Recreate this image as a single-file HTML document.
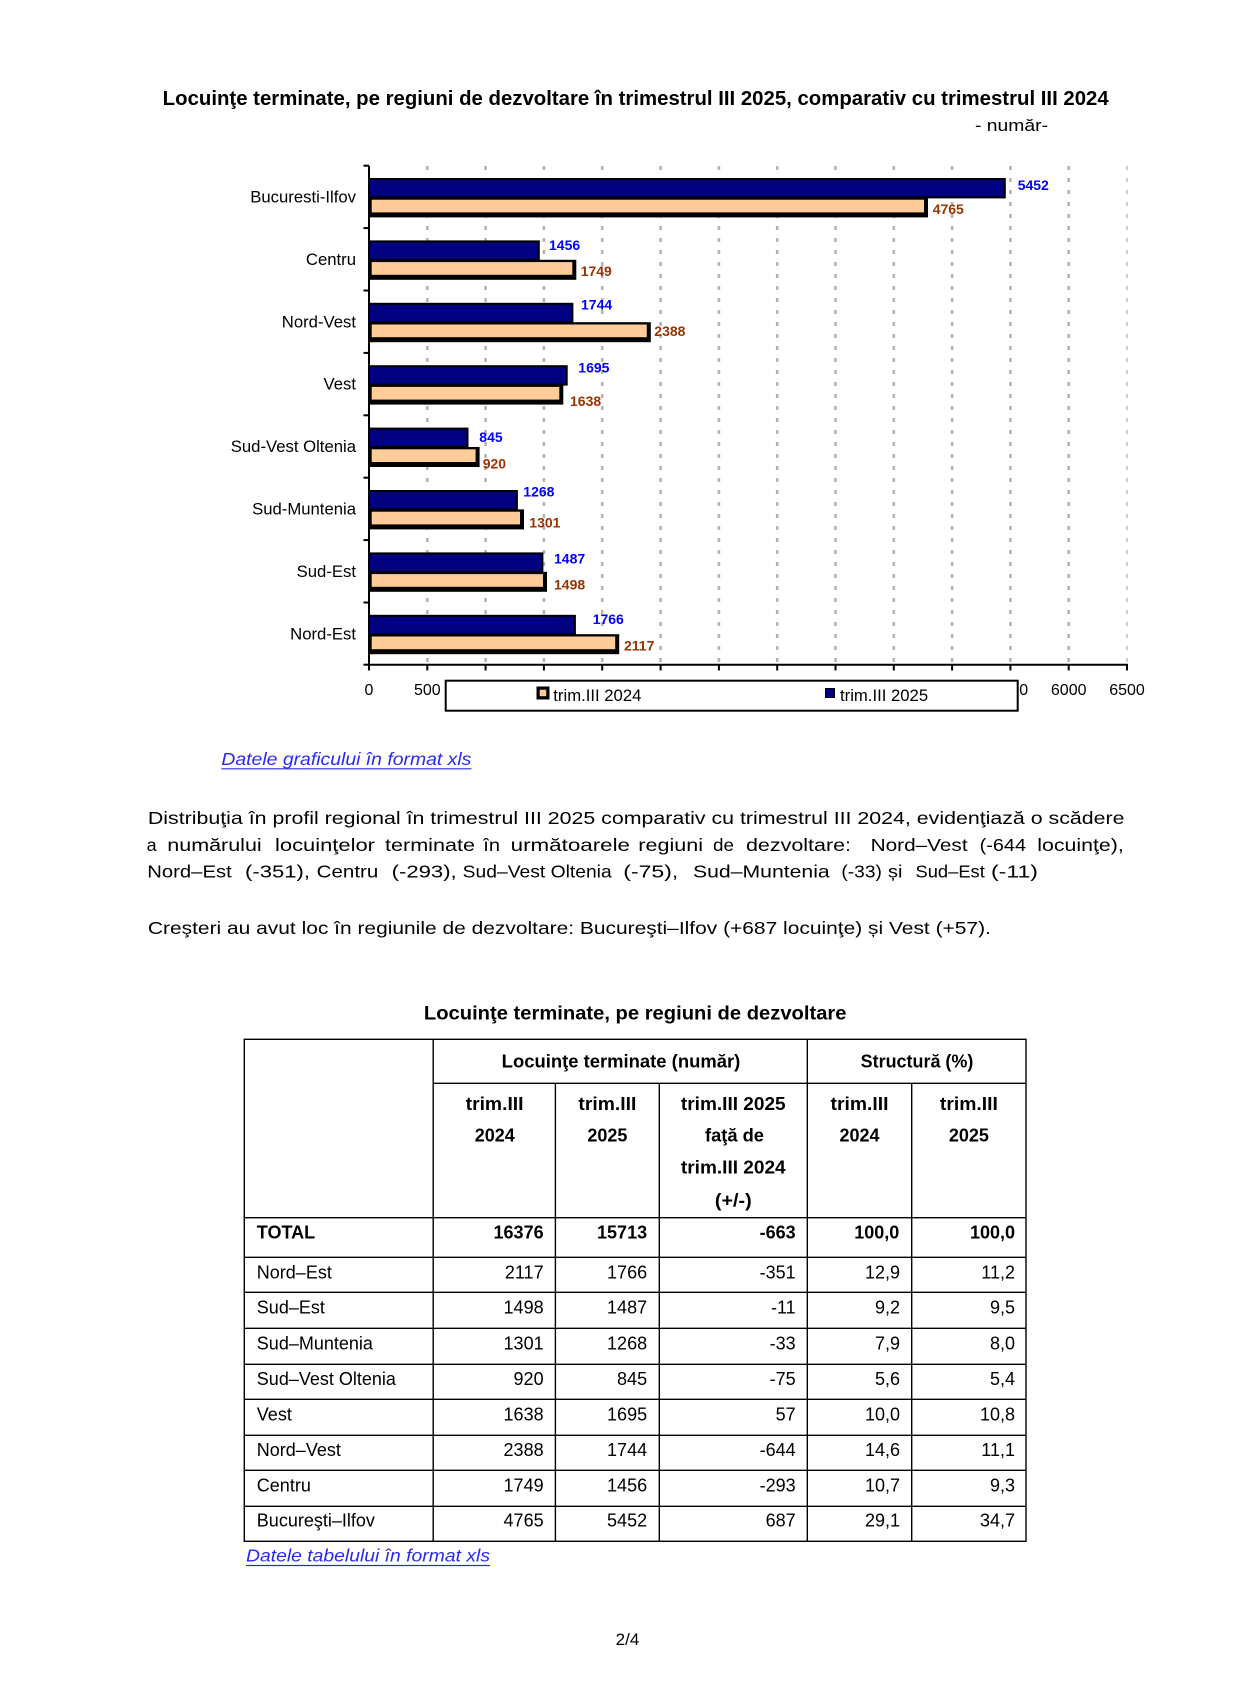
<!DOCTYPE html>
<html>
<head>
<meta charset="utf-8">
<style>
html,body{margin:0;padding:0;background:#fff;}
svg{display:block;}
text{font-family:"Liberation Sans",Arial,sans-serif;}
</style>
</head>
<body>
<svg width="1238" height="1707" viewBox="0 0 1238 1707" xmlns="http://www.w3.org/2000/svg">
<rect x="0" y="0" width="1238" height="1707" fill="#fff"/>

<!-- Chart title -->
<text x="162.7" y="105" font-size="20" font-weight="bold" fill="#000" textLength="946" lengthAdjust="spacingAndGlyphs">Locuinţe terminate, pe regiuni de dezvoltare în trimestrul III 2025, comparativ cu trimestrul III 2024</text>
<text x="975" y="131" font-size="17" fill="#000" textLength="73" lengthAdjust="spacingAndGlyphs">- număr-</text>

<!-- Gridlines -->
<g stroke="#b4b4b4" stroke-width="2.6" stroke-dasharray="4 8">
<line x1="427.3" y1="166" x2="427.3" y2="664"/>
<line x1="485.6" y1="166" x2="485.6" y2="664"/>
<line x1="543.9" y1="166" x2="543.9" y2="664"/>
<line x1="602.2" y1="166" x2="602.2" y2="664"/>
<line x1="660.6" y1="166" x2="660.6" y2="664"/>
<line x1="718.9" y1="166" x2="718.9" y2="664"/>
<line x1="777.2" y1="166" x2="777.2" y2="664"/>
<line x1="835.5" y1="166" x2="835.5" y2="664"/>
<line x1="893.8" y1="166" x2="893.8" y2="664"/>
<line x1="952.1" y1="166" x2="952.1" y2="664"/>
<line x1="1010.4" y1="166" x2="1010.4" y2="664"/>
<line x1="1068.7" y1="166" x2="1068.7" y2="664"/>
</g>
<line x1="1127" y1="166" x2="1127" y2="664" stroke="#b4b4b4" stroke-width="1.3" stroke-dasharray="4 8"/>

<!-- Navy bars (2025) -->
<g fill="#000080" stroke="#000" stroke-width="2">
<rect x="369" y="179.0" width="635.8" height="18.4"/>
<rect x="369" y="241.4" width="169.8" height="18.4"/>
<rect x="369" y="303.8" width="203.4" height="18.4"/>
<rect x="369" y="366.2" width="197.7" height="18.4"/>
<rect x="369" y="428.6" width="98.5" height="18.4"/>
<rect x="369" y="491.0" width="147.9" height="18.4"/>
<rect x="369" y="553.4" width="173.4" height="18.4"/>
<rect x="369" y="615.8" width="205.9" height="18.4"/>
</g>
<!-- Orange bars (2024) outer -->
<g fill="#000">
<rect x="369" y="197.4" width="559.0" height="20"/>
<rect x="369" y="259.8" width="207.3" height="20"/>
<rect x="369" y="322.2" width="281.8" height="20"/>
<rect x="369" y="384.6" width="194.3" height="20"/>
<rect x="369" y="447.0" width="110.6" height="20"/>
<rect x="369" y="509.4" width="155.0" height="20"/>
<rect x="369" y="571.8" width="178.0" height="20"/>
<rect x="369" y="634.2" width="250.2" height="20"/>
</g>
<g fill="#ffcc99">
<rect x="371.7" y="199.7" width="552.3" height="12.7"/>
<rect x="371.7" y="262.1" width="200.6" height="12.7"/>
<rect x="371.7" y="324.5" width="275.1" height="12.7"/>
<rect x="371.7" y="386.9" width="187.6" height="12.7"/>
<rect x="371.7" y="449.3" width="103.9" height="12.7"/>
<rect x="371.7" y="511.7" width="148.3" height="12.7"/>
<rect x="371.7" y="574.1" width="171.3" height="12.7"/>
<rect x="371.7" y="636.5" width="243.5" height="12.7"/>
</g>

<!-- Axes -->
<line x1="369" y1="165.7" x2="369" y2="665.5" stroke="#000" stroke-width="2"/>
<line x1="368" y1="664.7" x2="1128" y2="664.7" stroke="#000" stroke-width="2"/>
<g stroke="#000" stroke-width="2">
<line x1="363.5" y1="165.7" x2="369" y2="165.7"/>
<line x1="363.5" y1="228.1" x2="369" y2="228.1"/>
<line x1="363.5" y1="290.5" x2="369" y2="290.5"/>
<line x1="363.5" y1="352.9" x2="369" y2="352.9"/>
<line x1="363.5" y1="415.3" x2="369" y2="415.3"/>
<line x1="363.5" y1="477.7" x2="369" y2="477.7"/>
<line x1="363.5" y1="540.1" x2="369" y2="540.1"/>
<line x1="363.5" y1="602.5" x2="369" y2="602.5"/>
<line x1="363.5" y1="664.7" x2="369" y2="664.7"/>
<line x1="369" y1="664.7" x2="369" y2="670.5"/>
<line x1="427.3" y1="664.7" x2="427.3" y2="670.5"/>
<line x1="485.6" y1="664.7" x2="485.6" y2="670.5"/>
<line x1="543.9" y1="664.7" x2="543.9" y2="670.5"/>
<line x1="602.2" y1="664.7" x2="602.2" y2="670.5"/>
<line x1="660.6" y1="664.7" x2="660.6" y2="670.5"/>
<line x1="718.9" y1="664.7" x2="718.9" y2="670.5"/>
<line x1="777.2" y1="664.7" x2="777.2" y2="670.5"/>
<line x1="835.5" y1="664.7" x2="835.5" y2="670.5"/>
<line x1="893.8" y1="664.7" x2="893.8" y2="670.5"/>
<line x1="952.1" y1="664.7" x2="952.1" y2="670.5"/>
<line x1="1010.4" y1="664.7" x2="1010.4" y2="670.5"/>
<line x1="1068.7" y1="664.7" x2="1068.7" y2="670.5"/>
<line x1="1127" y1="664.7" x2="1127" y2="670.5"/>
</g>

<!-- Category labels -->
<g font-size="16.7" fill="#000" text-anchor="end">
<text x="356" y="202.5">Bucuresti-Ilfov</text>
<text x="356" y="264.9">Centru</text>
<text x="356" y="327.3">Nord-Vest</text>
<text x="356" y="389.7">Vest</text>
<text x="356" y="452.1">Sud-Vest Oltenia</text>
<text x="356" y="514.5">Sud-Muntenia</text>
<text x="356" y="576.9">Sud-Est</text>
<text x="356" y="639.3">Nord-Est</text>
</g>

<!-- Data labels -->
<g font-size="14" font-weight="bold" fill="#0000ff">
<text x="1017.7" y="190">5452</text>
<text x="549" y="250">1456</text>
<text x="581" y="309.3">1744</text>
<text x="578.3" y="372.7">1695</text>
<text x="479.3" y="442">845</text>
<text x="523.3" y="496.3">1268</text>
<text x="554" y="563.3">1487</text>
<text x="592.7" y="624">1766</text>
</g>
<g font-size="14" font-weight="bold" fill="#993300">
<text x="932.7" y="214">4765</text>
<text x="580.7" y="276">1749</text>
<text x="654.3" y="336">2388</text>
<text x="570" y="406">1638</text>
<text x="482.7" y="468.3">920</text>
<text x="529.3" y="527.3">1301</text>
<text x="554" y="589.3">1498</text>
<text x="624" y="650.7">2117</text>
</g>

<!-- X tick labels -->
<g font-size="16" fill="#000" text-anchor="middle">
<text x="369" y="695">0</text>
<text x="427.3" y="695">500</text>
<text x="485.6" y="695">1000</text>
<text x="543.9" y="695">1500</text>
<text x="602.2" y="695">2000</text>
<text x="660.6" y="695">2500</text>
<text x="718.9" y="695">3000</text>
<text x="777.2" y="695">3500</text>
<text x="835.5" y="695">4000</text>
<text x="893.8" y="695">4500</text>
<text x="952.1" y="695">5000</text>
<text x="1010.4" y="695">5500</text>
<text x="1068.7" y="695">6000</text>
<text x="1127" y="695">6500</text>
</g>

<!-- Legend -->
<rect x="445.7" y="680.7" width="572" height="30" fill="#fff" stroke="#000" stroke-width="2"/>
<rect x="536.5" y="686.5" width="13" height="13" fill="#000"/>
<rect x="539.7" y="689.7" width="6.5" height="6.5" fill="#ffcc99"/>
<text x="553.3" y="701" font-size="16.7" fill="#000">trim.III 2024</text>
<rect x="825.5" y="688.5" width="9" height="9" fill="#000080" stroke="#000" stroke-width="1"/>
<text x="840" y="701" font-size="16.7" fill="#000">trim.III 2025</text>

<!-- Link 1 -->
<text x="221.4" y="765" font-size="17.5" font-style="italic" fill="#2a2aee" textLength="250" lengthAdjust="spacingAndGlyphs">Datele graficului în format xls</text>
<line x1="221.4" y1="768.8" x2="471.4" y2="768.8" stroke="#2a2aee" stroke-width="1.2"/>

<!-- Paragraph -->
<g font-size="17.5" fill="#000">
<text x="147.9" y="824" textLength="976.6" lengthAdjust="spacingAndGlyphs">Distribuţia în profil regional în trimestrul III 2025 comparativ cu trimestrul III 2024, evidenţiază o scădere</text>

<text x="146.7" y="851" textLength="10" lengthAdjust="spacingAndGlyphs">a</text>
<text x="167.3" y="851" textLength="94.4" lengthAdjust="spacingAndGlyphs">numărului</text>
<text x="275" y="851" textLength="100" lengthAdjust="spacingAndGlyphs">locuinţelor</text>
<text x="385" y="851" textLength="90" lengthAdjust="spacingAndGlyphs">terminate</text>
<text x="483.3" y="851" textLength="16.7" lengthAdjust="spacingAndGlyphs">în</text>
<text x="510.7" y="851" textLength="119.3" lengthAdjust="spacingAndGlyphs">următoarele</text>
<text x="638.3" y="851" textLength="64.7" lengthAdjust="spacingAndGlyphs">regiuni</text>
<text x="713" y="851" textLength="21" lengthAdjust="spacingAndGlyphs">de</text>
<text x="746" y="851" textLength="105" lengthAdjust="spacingAndGlyphs">dezvoltare:</text>
<text x="870.6" y="851" textLength="97" lengthAdjust="spacingAndGlyphs">Nord–Vest</text>
<text x="979.7" y="851" textLength="46.3" lengthAdjust="spacingAndGlyphs">(-644</text>
<text x="1037.3" y="851" textLength="86.5" lengthAdjust="spacingAndGlyphs">locuinţe),</text>

<text x="147.3" y="877.7" textLength="84.4" lengthAdjust="spacingAndGlyphs">Nord–Est</text>
<text x="245" y="877.7" textLength="65" lengthAdjust="spacingAndGlyphs">(-351),</text>
<text x="316.7" y="877.7" textLength="61.6" lengthAdjust="spacingAndGlyphs">Centru</text>
<text x="391.7" y="877.7" textLength="65" lengthAdjust="spacingAndGlyphs">(-293),</text>
<text x="462.7" y="877.7" textLength="149" lengthAdjust="spacingAndGlyphs">Sud–Vest Oltenia</text>
<text x="623.3" y="877.7" textLength="55" lengthAdjust="spacingAndGlyphs">(-75),</text>
<text x="693" y="877.7" textLength="136.7" lengthAdjust="spacingAndGlyphs">Sud–Muntenia</text>
<text x="841.4" y="877.7" textLength="40.5" lengthAdjust="spacingAndGlyphs">(-33)</text>
<text x="888" y="877.7" textLength="14.4" lengthAdjust="spacingAndGlyphs">și</text>
<text x="915.5" y="877.7" textLength="69.3" lengthAdjust="spacingAndGlyphs">Sud–Est</text>
<text x="991" y="877.7" textLength="47" lengthAdjust="spacingAndGlyphs">(-11)</text>

<text x="147.9" y="934" textLength="843" lengthAdjust="spacingAndGlyphs">Creşteri au avut loc în regiunile de dezvoltare: Bucureşti–Ilfov (+687 locuinţe) și Vest (+57).</text>
</g>

<!-- Table title -->
<text x="423.9" y="1019.3" font-size="19" font-weight="bold" fill="#000" textLength="422.6" lengthAdjust="spacingAndGlyphs">Locuinţe terminate, pe regiuni de dezvoltare</text>

<!-- Table lines -->
<g stroke="#000" stroke-width="1.4" fill="none">
<rect x="244.3" y="1039.3" width="781.7" height="502"/>
<line x1="433.2" y1="1039.3" x2="433.2" y2="1541.3"/>
<line x1="807.3" y1="1039.3" x2="807.3" y2="1541.3"/>
<line x1="555.4" y1="1083.3" x2="555.4" y2="1541.3"/>
<line x1="659.3" y1="1083.3" x2="659.3" y2="1541.3"/>
<line x1="911.7" y1="1083.3" x2="911.7" y2="1541.3"/>
<line x1="433.2" y1="1083.3" x2="1026" y2="1083.3"/>
<line x1="244.3" y1="1217.7" x2="1026" y2="1217.7"/>
<line x1="244.3" y1="1257.3" x2="1026" y2="1257.3"/>
<line x1="244.3" y1="1292.3" x2="1026" y2="1292.3"/>
<line x1="244.3" y1="1328.3" x2="1026" y2="1328.3"/>
<line x1="244.3" y1="1364.3" x2="1026" y2="1364.3"/>
<line x1="244.3" y1="1399.3" x2="1026" y2="1399.3"/>
<line x1="244.3" y1="1435.3" x2="1026" y2="1435.3"/>
<line x1="244.3" y1="1470.3" x2="1026" y2="1470.3"/>
<line x1="244.3" y1="1506.3" x2="1026" y2="1506.3"/>
</g>

<!-- Table headers -->
<g font-size="18" font-weight="bold" fill="#000" text-anchor="middle">
<text x="621" y="1067.3" textLength="238.6" lengthAdjust="spacingAndGlyphs">Locuinţe terminate (număr)</text>
<text x="917" y="1067.3" textLength="112.7" lengthAdjust="spacingAndGlyphs">Structură (%)</text>
<text x="494.6" y="1110" textLength="57.9" lengthAdjust="spacingAndGlyphs">trim.III</text>
<text x="494.8" y="1141.7">2024</text>
<text x="607.4" y="1110" textLength="57.9" lengthAdjust="spacingAndGlyphs">trim.III</text>
<text x="607.4" y="1141.7">2025</text>
<text x="733.3" y="1110" textLength="104.7" lengthAdjust="spacingAndGlyphs">trim.III 2025</text>
<text x="734.5" y="1141.7" textLength="59" lengthAdjust="spacingAndGlyphs">faţă de</text>
<text x="733.3" y="1173.3" textLength="104.7" lengthAdjust="spacingAndGlyphs">trim.III 2024</text>
<text x="733.3" y="1206.7" textLength="36.7" lengthAdjust="spacingAndGlyphs">(+/-)</text>
<text x="859.5" y="1110" textLength="57.9" lengthAdjust="spacingAndGlyphs">trim.III</text>
<text x="859.5" y="1141.7">2024</text>
<text x="968.9" y="1110" textLength="57.9" lengthAdjust="spacingAndGlyphs">trim.III</text>
<text x="968.9" y="1141.7">2025</text>
</g>

<!-- TOTAL row -->
<g font-size="18" font-weight="bold" fill="#000">
<text x="256.8" y="1238.3">TOTAL</text>
<g text-anchor="end">
<text x="543.6" y="1238.3">16376</text>
<text x="647.1" y="1238.3">15713</text>
<text x="795.7" y="1238.3">-663</text>
<text x="899.3" y="1238.3">100,0</text>
<text x="1015" y="1238.3">100,0</text>
</g>
</g>

<!-- Body rows -->
<g font-size="18" fill="#000">
<text x="256.8" y="1278.3">Nord–Est</text>
<text x="256.8" y="1313.3">Sud–Est</text>
<text x="256.8" y="1349.3">Sud–Muntenia</text>
<text x="256.8" y="1385">Sud–Vest Oltenia</text>
<text x="256.8" y="1420.7">Vest</text>
<text x="256.8" y="1456">Nord–Vest</text>
<text x="256.8" y="1491.7">Centru</text>
<text x="256.8" y="1526.7">Bucureşti–Ilfov</text>
<g text-anchor="end">
<text x="543.6" y="1278.3">2117</text><text x="647.1" y="1278.3">1766</text><text x="795.7" y="1278.3">-351</text><text x="900" y="1278.3">12,9</text><text x="1015" y="1278.3">11,2</text>
<text x="543.6" y="1313.3">1498</text><text x="647.1" y="1313.3">1487</text><text x="795.7" y="1313.3">-11</text><text x="900" y="1313.3">9,2</text><text x="1015" y="1313.3">9,5</text>
<text x="543.6" y="1349.3">1301</text><text x="647.1" y="1349.3">1268</text><text x="795.7" y="1349.3">-33</text><text x="900" y="1349.3">7,9</text><text x="1015" y="1349.3">8,0</text>
<text x="543.6" y="1385">920</text><text x="647.1" y="1385">845</text><text x="795.7" y="1385">-75</text><text x="900" y="1385">5,6</text><text x="1015" y="1385">5,4</text>
<text x="543.6" y="1420.7">1638</text><text x="647.1" y="1420.7">1695</text><text x="795.7" y="1420.7">57</text><text x="900" y="1420.7">10,0</text><text x="1015" y="1420.7">10,8</text>
<text x="543.6" y="1456">2388</text><text x="647.1" y="1456">1744</text><text x="795.7" y="1456">-644</text><text x="900" y="1456">14,6</text><text x="1015" y="1456">11,1</text>
<text x="543.6" y="1491.7">1749</text><text x="647.1" y="1491.7">1456</text><text x="795.7" y="1491.7">-293</text><text x="900" y="1491.7">10,7</text><text x="1015" y="1491.7">9,3</text>
<text x="543.6" y="1526.7">4765</text><text x="647.1" y="1526.7">5452</text><text x="795.7" y="1526.7">687</text><text x="900" y="1526.7">29,1</text><text x="1015" y="1526.7">34,7</text>
</g>
</g>

<!-- Link 2 -->
<text x="246" y="1561.7" font-size="17.5" font-style="italic" fill="#2a2aee" textLength="244" lengthAdjust="spacingAndGlyphs">Datele tabelului în format xls</text>
<line x1="246" y1="1565.5" x2="490" y2="1565.5" stroke="#2a2aee" stroke-width="1.2"/>

<!-- Page number -->
<text x="627.5" y="1645" font-size="17" fill="#000" text-anchor="middle">2/4</text>
</svg>
</body>
</html>
